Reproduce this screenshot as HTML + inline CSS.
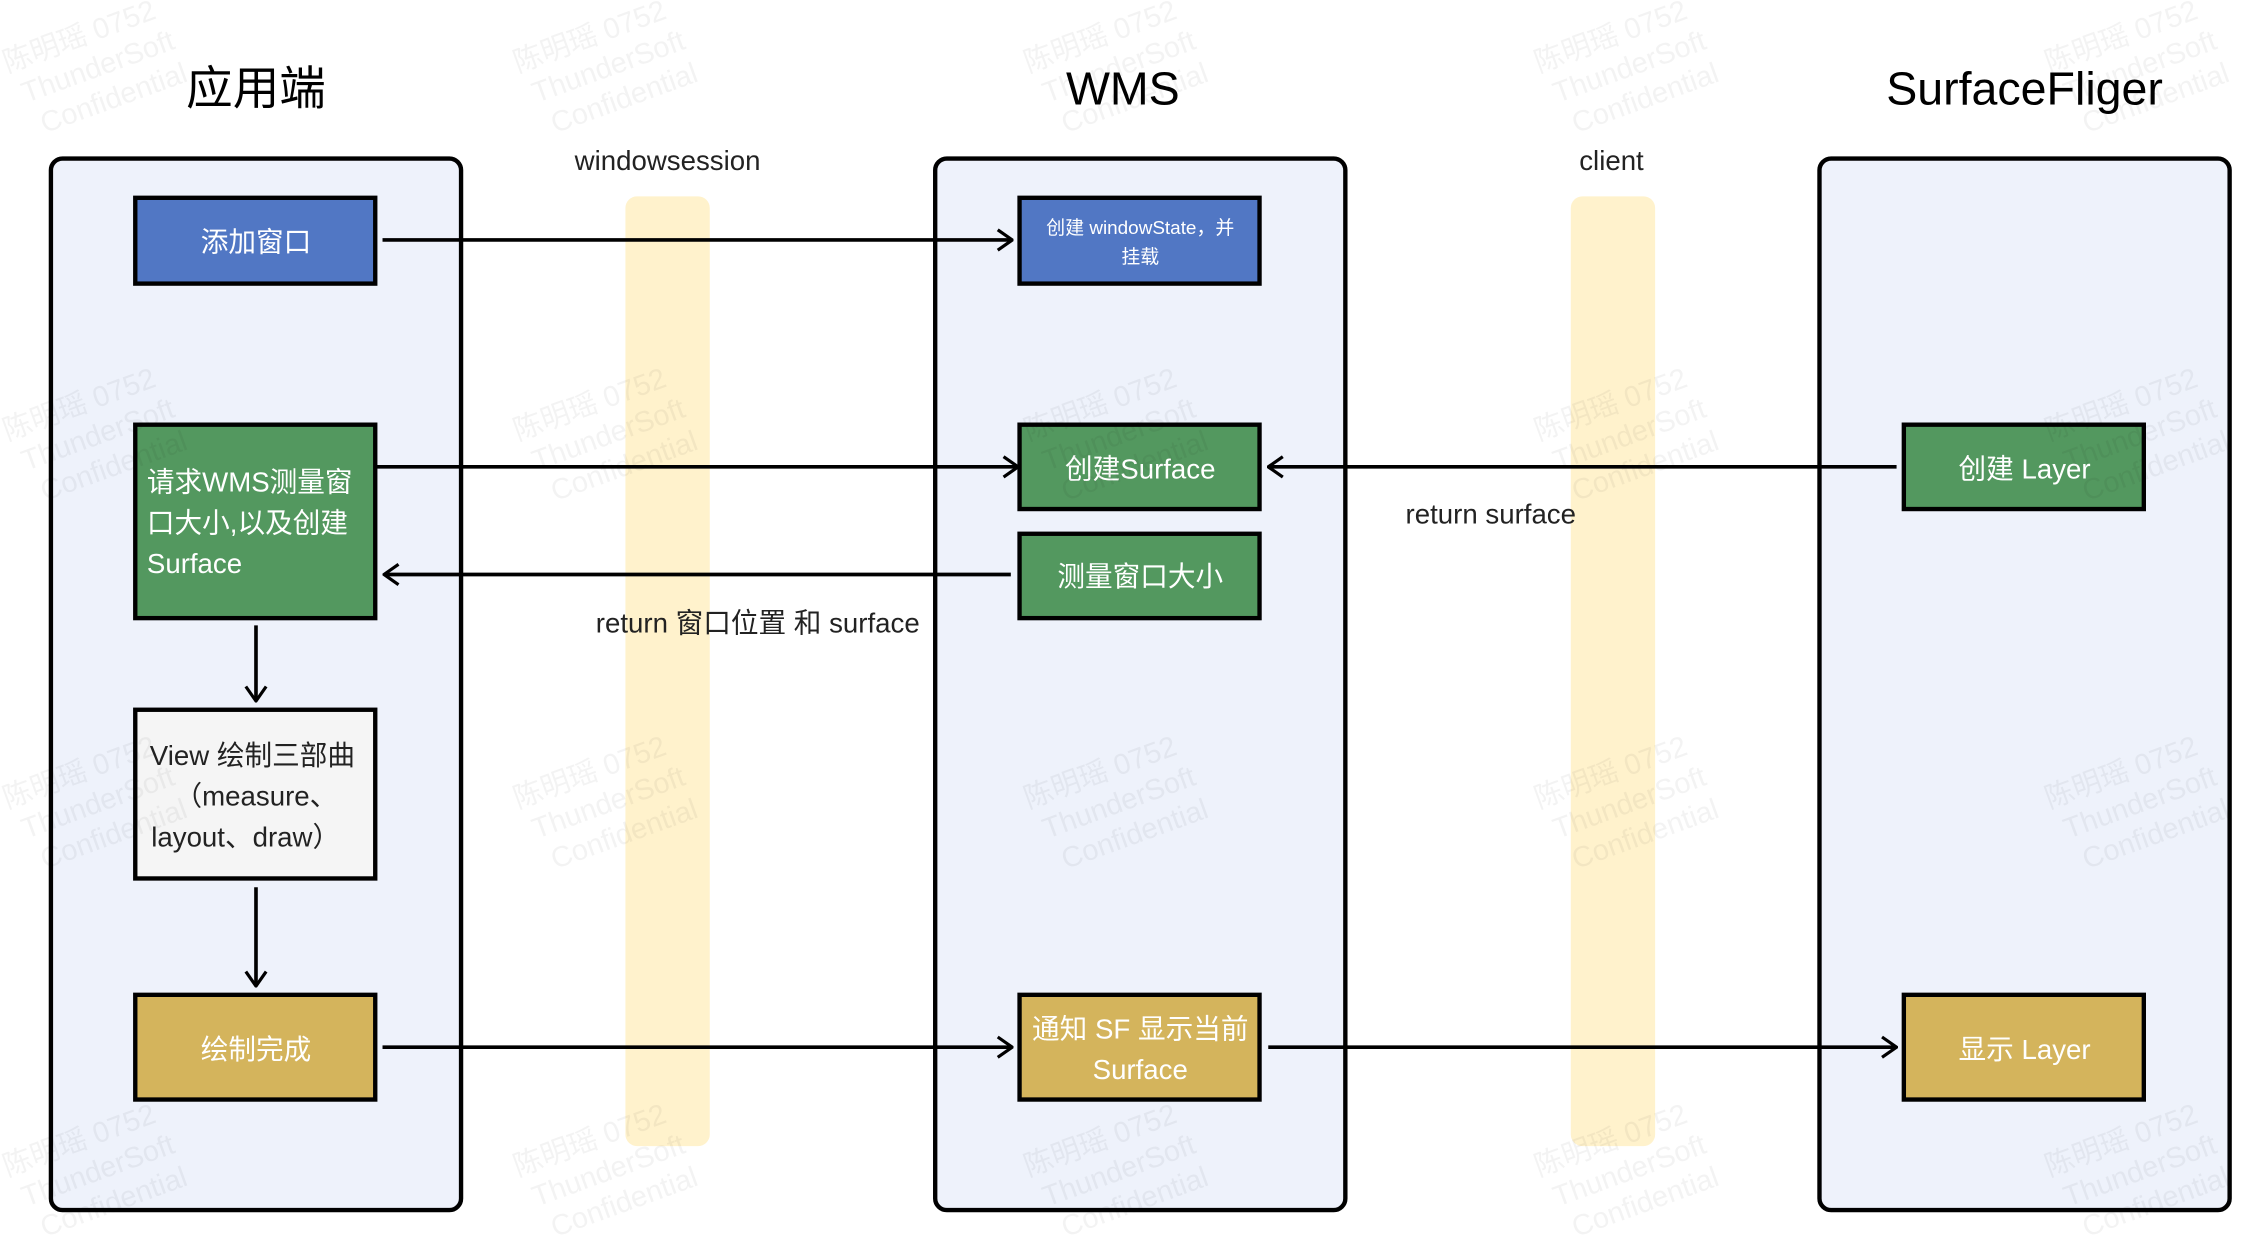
<!DOCTYPE html>
<html><head><meta charset="utf-8"><style>
html,body{margin:0;padding:0;background:#fff;}
svg{display:block;}
text{font-family:"Liberation Sans","Noto Sans CJK SC",sans-serif;}
</style></head><body>
<svg width="2250" height="1246" viewBox="0 0 1547 856.7" xmlns="http://www.w3.org/2000/svg">
<defs>
<marker id="a" viewBox="0 0 12 16" refX="11" refY="8" markerWidth="12" markerHeight="16" markerUnits="userSpaceOnUse" orient="auto">
<path d="M1,1 L11,8 L1,15" fill="none" stroke="#000" stroke-width="2.2"/>
</marker>
</defs>
<rect width="1547" height="857" fill="#fff"/>
<g fill="#000" font-size="32" text-anchor="middle">
<text x="176" y="72">应用端</text>
<text x="772" y="72">WMS</text>
<text x="1392" y="72">SurfaceFliger</text>
</g>
<g fill="#eef2fb" stroke="#000" stroke-width="3">
<rect x="35" y="109" width="282" height="723" rx="8"/>
<rect x="643" y="109" width="282" height="723" rx="8"/>
<rect x="1251" y="109" width="282" height="723" rx="8"/>
</g>
<rect x="430" y="135" width="58" height="653" rx="8" fill="#fff2cc"/>
<rect x="1080" y="135" width="58" height="653" rx="8" fill="#fff2cc"/>
<g font-size="19" fill="#222" text-anchor="middle">
<text x="459" y="117">windowsession</text>
<text x="1108" y="117">client</text>
<text x="1025" y="360">return surface</text>
<text x="521" y="435">return 窗口位置 和 surface</text>
</g>
<g stroke="#000" stroke-width="3">
<rect x="93" y="136" width="165" height="59" fill="#5177c4"/>
<rect x="701" y="136" width="165" height="59" fill="#5177c4"/>
<rect x="93" y="292" width="165" height="133" fill="#53985f"/>
<rect x="701" y="292" width="165" height="58" fill="#53985f"/>
<rect x="701" y="367" width="165" height="58" fill="#53985f"/>
<rect x="1309" y="292" width="165" height="58" fill="#53985f"/>
<rect x="93" y="488" width="165" height="116" fill="#f5f5f5"/>
<rect x="93" y="684" width="165" height="72" fill="#d4b45c"/>
<rect x="701" y="684" width="165" height="72" fill="#d4b45c"/>
<rect x="1309" y="684" width="165" height="72" fill="#d4b45c"/>
</g>
<g fill="#fff" font-size="19" text-anchor="middle">
<text x="176" y="173">添加窗口</text>
<text x="784" y="161" font-size="13">创建 windowState，并</text>
<text x="784" y="181" font-size="13">挂载</text>
<text x="784" y="329">创建Surface</text>
<text x="784" y="403">测量窗口大小</text>
<text x="1392" y="329">创建 Layer</text>
<text x="176" y="728">绘制完成</text>
<text x="784" y="714">通知 SF 显示当前</text>
<text x="784" y="742">Surface</text>
<text x="1392" y="728">显示 Layer</text>
</g>
<g fill="#fff" font-size="19">
<text x="101" y="338">请求WMS测量窗</text>
<text x="101" y="366">口大小,以及创建</text>
<text x="101" y="394">Surface</text>
</g>
<g fill="#222" font-size="19">
<text x="103" y="526">View 绘制三部曲</text>
<text x="120" y="554">（measure、</text>
<text x="104" y="582">layout、draw）</text>
</g>
<g stroke="#000" stroke-width="2.5" fill="none" marker-end="url(#a)">
<line x1="263" y1="165" x2="696" y2="165"/>
<line x1="258" y1="321" x2="700" y2="321"/>
<line x1="1304" y1="321" x2="872" y2="321"/>
<line x1="695" y1="395" x2="264" y2="395"/>
<line x1="176" y1="430" x2="176" y2="482"/>
<line x1="176" y1="610" x2="176" y2="678"/>
<line x1="263" y1="720" x2="696" y2="720"/>
<line x1="872" y1="720" x2="1304" y2="720"/>
</g>
<g fill="#000" opacity="0.05" font-size="20">
<g transform="translate(5,50) rotate(-20)"><text>陈明瑶 0752</text><text x="5" y="24">ThunderSoft</text><text x="10" y="48">Confidential</text></g>
<g transform="translate(356,50) rotate(-20)"><text>陈明瑶 0752</text><text x="5" y="24">ThunderSoft</text><text x="10" y="48">Confidential</text></g>
<g transform="translate(707,50) rotate(-20)"><text>陈明瑶 0752</text><text x="5" y="24">ThunderSoft</text><text x="10" y="48">Confidential</text></g>
<g transform="translate(1058,50) rotate(-20)"><text>陈明瑶 0752</text><text x="5" y="24">ThunderSoft</text><text x="10" y="48">Confidential</text></g>
<g transform="translate(1409,50) rotate(-20)"><text>陈明瑶 0752</text><text x="5" y="24">ThunderSoft</text><text x="10" y="48">Confidential</text></g>
<g transform="translate(5,303) rotate(-20)"><text>陈明瑶 0752</text><text x="5" y="24">ThunderSoft</text><text x="10" y="48">Confidential</text></g>
<g transform="translate(356,303) rotate(-20)"><text>陈明瑶 0752</text><text x="5" y="24">ThunderSoft</text><text x="10" y="48">Confidential</text></g>
<g transform="translate(707,303) rotate(-20)"><text>陈明瑶 0752</text><text x="5" y="24">ThunderSoft</text><text x="10" y="48">Confidential</text></g>
<g transform="translate(1058,303) rotate(-20)"><text>陈明瑶 0752</text><text x="5" y="24">ThunderSoft</text><text x="10" y="48">Confidential</text></g>
<g transform="translate(1409,303) rotate(-20)"><text>陈明瑶 0752</text><text x="5" y="24">ThunderSoft</text><text x="10" y="48">Confidential</text></g>
<g transform="translate(5,556) rotate(-20)"><text>陈明瑶 0752</text><text x="5" y="24">ThunderSoft</text><text x="10" y="48">Confidential</text></g>
<g transform="translate(356,556) rotate(-20)"><text>陈明瑶 0752</text><text x="5" y="24">ThunderSoft</text><text x="10" y="48">Confidential</text></g>
<g transform="translate(707,556) rotate(-20)"><text>陈明瑶 0752</text><text x="5" y="24">ThunderSoft</text><text x="10" y="48">Confidential</text></g>
<g transform="translate(1058,556) rotate(-20)"><text>陈明瑶 0752</text><text x="5" y="24">ThunderSoft</text><text x="10" y="48">Confidential</text></g>
<g transform="translate(1409,556) rotate(-20)"><text>陈明瑶 0752</text><text x="5" y="24">ThunderSoft</text><text x="10" y="48">Confidential</text></g>
<g transform="translate(5,809) rotate(-20)"><text>陈明瑶 0752</text><text x="5" y="24">ThunderSoft</text><text x="10" y="48">Confidential</text></g>
<g transform="translate(356,809) rotate(-20)"><text>陈明瑶 0752</text><text x="5" y="24">ThunderSoft</text><text x="10" y="48">Confidential</text></g>
<g transform="translate(707,809) rotate(-20)"><text>陈明瑶 0752</text><text x="5" y="24">ThunderSoft</text><text x="10" y="48">Confidential</text></g>
<g transform="translate(1058,809) rotate(-20)"><text>陈明瑶 0752</text><text x="5" y="24">ThunderSoft</text><text x="10" y="48">Confidential</text></g>
<g transform="translate(1409,809) rotate(-20)"><text>陈明瑶 0752</text><text x="5" y="24">ThunderSoft</text><text x="10" y="48">Confidential</text></g>
</g>
</svg>
</body></html>
